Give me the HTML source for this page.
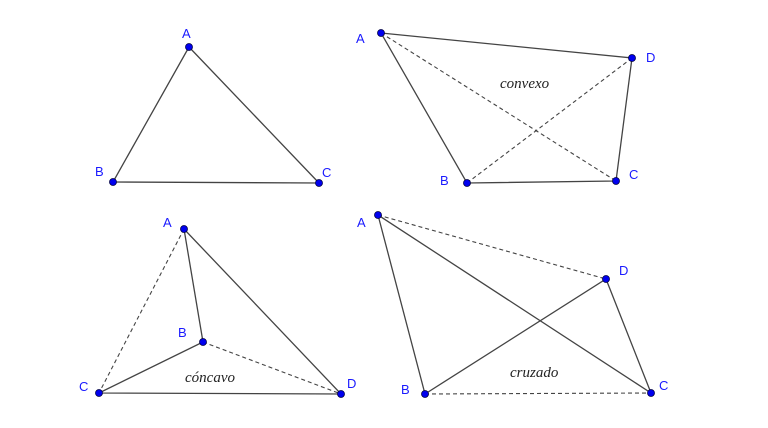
<!DOCTYPE html>
<html><head><style>
html,body{margin:0;padding:0;background:#fff}
svg text.l{font-family:"Liberation Sans",sans-serif;font-size:13px;fill:#1a1aff}
svg text.w{font-family:"Liberation Serif",serif;font-style:italic;font-size:15px;fill:#222}
</style></head><body>
<svg width="768" height="423" xmlns="http://www.w3.org/2000/svg">
<g stroke="#444" stroke-width="1.3" fill="none">
<path d="M189,47 L113,182 L319,183 Z"/>
<path d="M381,33 L632,58 L616,181 L467,183 Z"/>
<path d="M184,229 L203,342 L99,393 L341,394 Z"/>
<path d="M378,215 L651,393 M378,215 L425,394 L606,279 L651,393"/>
</g>
<g stroke="#444" stroke-width="1.1" stroke-dasharray="4,3" fill="none">
<path d="M381,33 L616,181 M467,183 L632,58"/>
<path d="M184,229 L99,393 M203,342 L341,394"/>
<path d="M378,215 L606,279 M425,394 L651,393"/>
</g>
<g fill="#0000ee" stroke="#000044" stroke-width="0.8">
<circle cx="189" cy="47" r="3.5"/><circle cx="113" cy="182" r="3.5"/><circle cx="319" cy="183" r="3.5"/>
<circle cx="381" cy="33" r="3.5"/><circle cx="632" cy="58" r="3.5"/><circle cx="616" cy="181" r="3.5"/><circle cx="467" cy="183" r="3.5"/>
<circle cx="184" cy="229" r="3.5"/><circle cx="203" cy="342" r="3.5"/><circle cx="99" cy="393" r="3.5"/><circle cx="341" cy="394" r="3.5"/>
<circle cx="378" cy="215" r="3.5"/><circle cx="606" cy="279" r="3.5"/><circle cx="425" cy="394" r="3.5"/><circle cx="651" cy="393" r="3.5"/>
</g>
<g class="lbl">
<text class="l" x="182" y="38">A</text><text class="l" x="95" y="176">B</text><text class="l" x="322" y="177">C</text>
<text class="l" x="356" y="43">A</text><text class="l" x="646" y="62">D</text><text class="l" x="629" y="179">C</text><text class="l" x="440" y="185">B</text>
<text class="l" x="163" y="227">A</text><text class="l" x="178" y="337">B</text><text class="l" x="79" y="391">C</text><text class="l" x="347" y="388">D</text>
<text class="l" x="357" y="227">A</text><text class="l" x="619" y="275">D</text><text class="l" x="401" y="394">B</text><text class="l" x="659" y="390">C</text>
</g>
<text class="w" x="500" y="88">convexo</text>
<text class="w" x="185" y="382">cóncavo</text>
<text class="w" x="510" y="377">cruzado</text>
</svg>
</body></html>
